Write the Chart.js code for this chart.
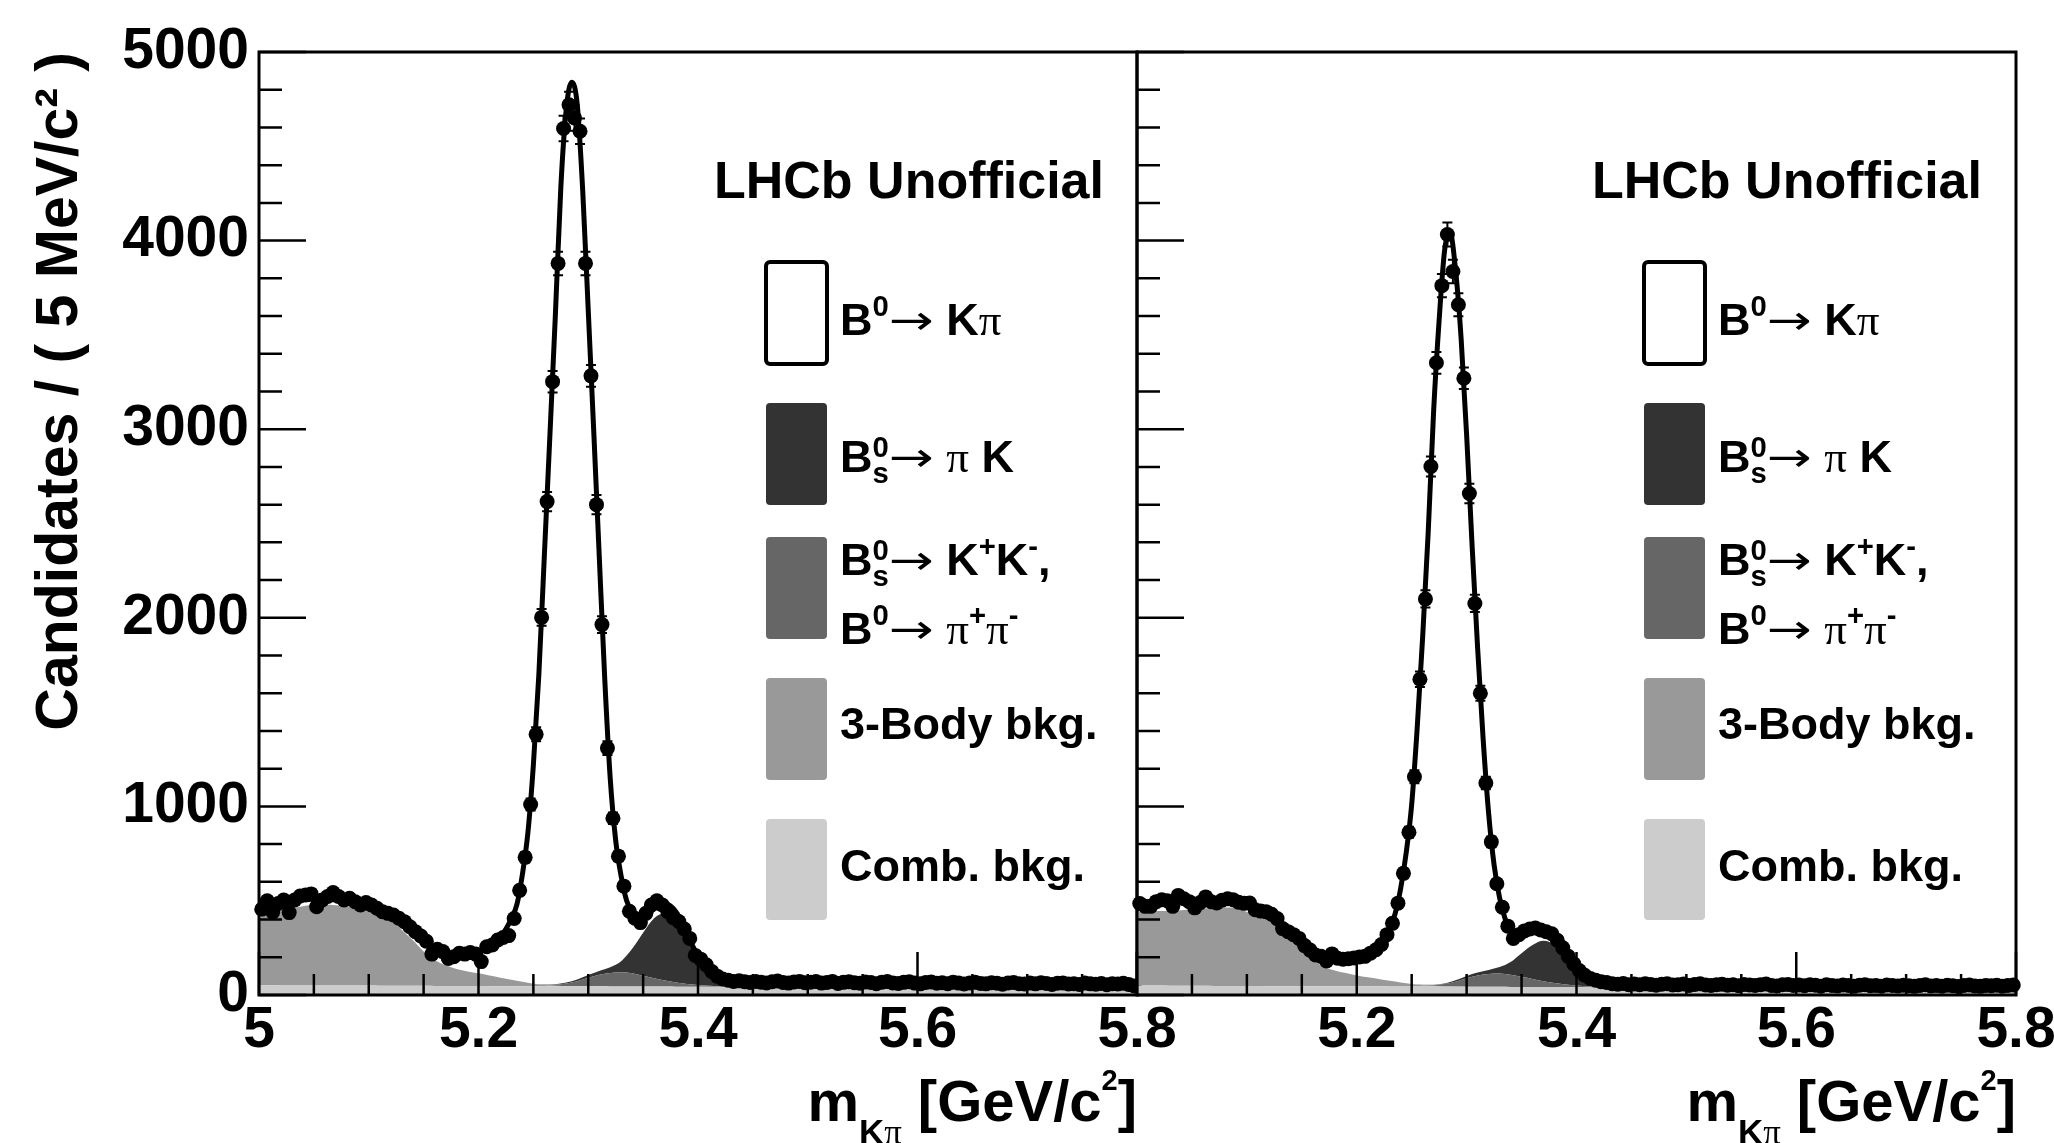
<!DOCTYPE html>
<html><head><meta charset="utf-8">
<script src="https://cdn.jsdelivr.net/npm/chart.js@4.4.0/dist/chart.umd.min.js"></script>
<style>
html,body{margin:0;padding:0;background:#fff;overflow:hidden;width:2054px;height:1143px;}
canvas{position:absolute;top:0;}
#cL{left:0;width:1200px;height:1143px;}
#cR{left:1110px;width:1000px;height:1143px;}
</style></head><body>
<canvas id="cL" width="1200" height="1143"></canvas>
<canvas id="cR" width="1000" height="1143"></canvas>
<script>
// ---------- binning ----------
const BIN_START = 5.0, BIN_WIDTH = 0.005, N_BINS = 160, COMP_STEP = 0.01, N_COMP = 81;

// ---------- axes ----------
const xTickValues = [5.0, 5.2, 5.4, 5.6, 5.8];
const xTickLabelsLeft = ['5', '5.2', '5.4', '5.6', '5.8'];
const xTickLabelsRight = ['', '5.2', '5.4', '5.6', '5.8'];
const xMinorTicks = [5.05, 5.1, 5.15, 5.25, 5.3, 5.35, 5.45, 5.5, 5.55, 5.65, 5.7, 5.75];
const yTickValues = [0, 1000, 2000, 3000, 4000, 5000];
const yTickLabels = ['0', '1000', '2000', '3000', '4000', '5000'];
const yMinorTicks = [200, 400, 600, 800, 1200, 1400, 1600, 1800, 2200, 2400, 2600, 2800, 3200, 3400, 3600, 3800, 4200, 4400, 4600, 4800];
const yTitle = 'Candidates / ( 5 MeV/c\u00B2 )';
const lhcbLabel = 'LHCb Unofficial';

// ---------- legend ----------
const legendColors = ['#ffffff', '#333333', '#666666', '#999999', '#cccccc'];
const legendLabels = [
  [[{t:'B'},{t:'0',sup:1},{t:'\u2192',arrow:1},{t:' K'},{t:'\u03C0',serif:1}]],
  [[{t:'B'},{t:'0',sup:1,stack:1},{t:'s',sub:1},{t:'\u2192',arrow:1},{t:' '},{t:'\u03C0',serif:1},{t:' K'}]],
  [[{t:'B'},{t:'0',sup:1,stack:1},{t:'s',sub:1},{t:'\u2192',arrow:1},{t:' K'},{t:'+',sup:1},{t:'K'},{t:'-',sup:1},{t:','}],
   [{t:'B'},{t:'0',sup:1},{t:'\u2192',arrow:1},{t:' '},{t:'\u03C0',serif:1},{t:'+',sup:1},{t:'\u03C0',serif:1},{t:'-',sup:1}]],
  [[{t:'3-Body bkg.'}]],
  [[{t:'Comb. bkg.'}]]
];
const xTitle = [{t:'m'},{t:'K',sub:1},{t:'\u03C0',serif:1,sub:1},{t:' [GeV/c'},{t:'2',sup:1},{t:']'}];

// ---------- left panel: data (events per 5 MeV bin) ----------
const leftCounts = [
  455,500,440,485,504,437,504,525,530,536,
  468,504,522,543,522,504,513,495,477,490,
  477,460,442,433,424,407,389,362,336,313,
  285,217,242,230,194,203,221,217,225,217,
  177,256,265,292,305,315,406,555,730,1010,
  1382,2002,2616,3252,3879,4594,4720,4650,4580,3879,
  3283,2600,1964,1309,937,736,577,444,407,384,
  433,477,500,477,442,410,390,350,300,210,
  190,160,125,100,85,78,72,75,70,66,
  72,68,64,70,74,66,63,69,72,65,
  68,71,63,66,72,61,67,70,65,62,
  69,66,60,68,71,64,61,67,70,63,
  59,66,69,62,65,60,68,63,58,64,
  67,61,59,65,62,57,64,66,60,58,
  63,59,65,61,56,62,64,58,60,56,
  63,59,57,61,55,60,58,62,56,48
];
// total fit, at bin edges
const leftFit = [
  465,474,482,488,492,496,500,503,506,507,
  508,508,508,507,505,502,498,493,488,482,
  474,465,454,441,425,406,384,359,332,305,
  278,255,237,223,213,207,205,206,209,215,
  225,239,257,280,310,350,405,480,640,860,
  1220,1700,2330,2960,3600,4280,4700,4840,4720,4260,
  3630,2990,2330,1680,1150,820,630,500,440,412,
  410,430,458,478,485,472,440,390,330,262,
  205,162,128,104,89,80,74,71,70,69,
  68,68,67,67,67,66,66,66,66,65,
  65,65,65,65,64,64,64,64,64,63,
  63,63,63,63,63,62,62,62,62,62,
  62,61,61,61,61,61,61,60,60,60,
  60,60,60,60,59,59,59,59,59,59,
  59,58,58,58,58,58,58,58,57,57,
  57,57,57,57,57,57,56,56,56,56,
  56
];
// components, on a 10 MeV grid
const leftComb = [
  52,52,51,51,51,51,50,50,50,50,
  50,49,49,49,49,49,48,48,48,48,
  48,47,47,47,47,47,46,46,46,46,
  46,46,45,45,45,45,45,45,44,44,
  44,44,44,44,43,43,43,43,43,43,
  42,42,42,42,42,42,42,41,41,41,
  41,41,41,41,41,40,40,40,40,40,
  40,40,40,40,39,39,39,39,39,39,
  39
];
const leftThreeBody = [
  355,380,398,410,420,427,428,426,421,415,
  405,383,356,297,242,182,138,110,90,77,
  67,56,45,34,23,13,7,3,1,0,
  0,0,0,0,0,0,0,0,0,0,
  0,0,0,0,0,0,0,0,0,0,
  0,0,0,0,0,0,0,0,0,0,
  0,0,0,0,0,0,0,0,0,0,
  0,0,0,0,0,0,0,0,0,0,
  0
];
const leftKKpipi = [
  0,0,0,0,0,0,0,0,0,0,
  0,0,0,0,0,0,0,0,0,0,
  0,0,0,0,0,0,2,6,14,27,
  46,62,72,76,70,57,44,32,22,14,
  9,5,3,2,1,0,0,0,0,0,
  0,0,0,0,0,0,0,0,0,0,
  0,0,0,0,0,0,0,0,0,0,
  0,0,0,0,0,0,0,0,0,0,
  0
];
const leftBsPiK = [
  0,0,0,0,0,0,0,0,0,0,
  0,0,0,0,0,0,0,0,0,0,
  0,0,0,0,0,0,1,2,5,9,
  14,19,30,58,130,228,318,356,312,240,
  130,52,15,4,1,0,0,0,0,0,
  0,0,0,0,0,0,0,0,0,0,
  0,0,0,0,0,0,0,0,0,0,
  0,0,0,0,0,0,0,0,0,0,
  0
];

// ---------- right panel ----------
const rightCounts = [
  485,470,470,495,505,500,470,528,510,495,
  462,490,520,495,488,503,510,505,492,486,
  488,452,445,442,428,405,352,336,320,300,
  262,238,212,205,180,218,195,190,192,196,
  202,205,222,240,268,320,380,487,645,863,
  1157,1674,2100,2802,3352,3761,4032,3836,3660,3270,
  2659,2076,1600,1124,812,590,465,365,300,320,
  340,350,355,345,335,325,290,250,205,165,
  130,105,88,78,70,66,60,57,61,55,
  58,54,59,56,52,57,60,53,55,58,
  51,56,59,53,50,55,57,52,54,49,
  56,53,50,55,58,51,48,54,56,50,
  53,49,55,52,47,54,51,48,53,50,
  46,52,55,49,51,47,53,50,48,52,
  49,46,51,54,48,50,47,52,49,45,
  50,53,48,46,51,49,52,47,50,53
];
const rightFit = [
  478,480,482,484,486,488,490,492,493,494,
  495,495,495,495,494,493,492,490,488,484,
  478,468,455,441,425,405,382,357,330,303,
  277,253,232,215,204,199,196,194,194,196,
  200,205,215,232,254,294,350,433,566,754,
  1010,1415,1900,2450,3100,3580,3950,4040,3840,3480,
  2970,2380,1840,1360,965,690,515,405,340,318,
  330,340,347,350,345,335,318,292,250,205,
  165,132,106,88,76,68,63,60,58,57,
  56,56,56,55,55,55,55,55,54,54,
  54,54,54,53,53,53,53,53,53,52,
  52,52,52,52,52,52,51,51,51,51,
  51,51,51,51,50,50,50,50,50,50,
  50,50,50,50,50,49,49,49,49,49,
  49,49,49,49,49,49,49,49,48,48,
  48,48,48,48,48,48,48,48,48,48,
  48
];
const rightComb = [
  50,50,50,49,49,49,49,48,48,48,
  48,48,47,47,47,47,47,46,46,46,
  46,46,46,45,45,45,45,45,44,44,
  44,44,44,44,43,43,43,43,43,43,
  42,42,42,42,42,42,42,41,41,41,
  41,41,41,41,41,41,40,40,40,40,
  40,40,40,40,40,40,39,39,39,39,
  39,39,39,39,39,39,39,38,38,38,
  38
];
const rightThreeBody = [
  391,393,395,397,401,406,409,413,416,414,
  392,377,359,320,252,191,138,104,84,70,
  58,48,39,30,21,13,7,4,2,1,
  0,0,0,0,0,0,0,0,0,0,
  0,0,0,0,0,0,0,0,0,0,
  0,0,0,0,0,0,0,0,0,0,
  0,0,0,0,0,0,0,0,0,0,
  0,0,0,0,0,0,0,0,0,0,
  0
];
const rightKKpipi = [
  0,0,0,0,0,0,0,0,0,0,
  0,0,0,0,0,0,0,0,0,0,
  0,0,0,0,0,0,2,5,12,25,
  45,60,68,70,64,54,42,30,21,13,
  8,4,2,1,0,0,0,0,0,0,
  0,0,0,0,0,0,0,0,0,0,
  0,0,0,0,0,0,0,0,0,0,
  0,0,0,0,0,0,0,0,0,0,
  0
];
const rightBsPiK = [
  0,0,0,0,0,0,0,0,0,0,
  0,0,0,0,0,0,0,0,0,0,
  0,0,0,0,0,0,0,1,3,8,
  12,15,21,34,68,125,180,214,201,150,
  75,25,6,1,0,0,0,0,0,0,
  0,0,0,0,0,0,0,0,0,0,
  0,0,0,0,0,0,0,0,0,0,
  0,0,0,0,0,0,0,0,0,0,
  0
];

// ---------- grids ----------
const binCenters = [], binEdges = [], compGrid = [];
for (let k = 0; k < N_BINS; k++) binCenters.push(+(BIN_START + BIN_WIDTH * (k + 0.5)).toFixed(5));
for (let k = 0; k <= N_BINS; k++) binEdges.push(+(BIN_START + BIN_WIDTH * k).toFixed(5));
for (let k = 0; k < N_COMP; k++) compGrid.push(+(BIN_START + COMP_STEP * k).toFixed(4));
const pts = (xs, ys) => ys.map((v, i) => ({x: xs[i], y: v}));

const SANS = '"Liberation Sans", Arial, Helvetica, sans-serif';
const SERIF = '"Liberation Serif", "Times New Roman", "DejaVu Serif", serif';
const ARROWFONT = '"DejaVu Sans", "Noto Sans", sans-serif';

function drawRuns(ctx, runs, x, y, size, st, measureOnly) {
  let cx = x;
  for (const r of runs) {
    const sc = r.sup ? st.supSc : (r.sub ? st.subSc : 1);
    const fs = size * sc;
    if (r.arrow) ctx.font = (fs * 0.9) + 'px ' + ARROWFONT;
    else ctx.font = (r.serif ? '' : 'bold ') + fs + 'px ' + (r.serif ? SERIF : SANS);
    let w = ctx.measureText(r.t).width;
    let dy = 0;
    if (r.sup) dy = -(r.stack ? st.stackSupDy : st.supDy);
    if (r.sub) dy = st.subDy;
    if (r.arrow) {
      const target = size * st.arrowW;
      const sx = target / w;
      if (!measureOnly) {
        ctx.save();
        ctx.translate(cx, y + dy - 1);
        ctx.scale(sx, 1);
        ctx.fillText(r.t, 0, 0);
        ctx.restore();
      }
      w = target;
    } else if (!measureOnly) {
      ctx.fillText(r.t, cx, y + dy);
    }
    if (!r.stack) cx += w;
  }
  return cx - x;
}

function makeDecor(P) {
  return {
    id: 'decor' + P.name,
    afterDatasetsDraw(chart) {
      const {ctx, chartArea: a, scales: {x, y}} = chart;
      const meta = chart.getDatasetMeta(0);
      ctx.save();
      ctx.strokeStyle = '#000';
      ctx.lineWidth = 2;
      ctx.beginPath();
      P.counts.forEach((c, i) => {
        const el = meta.data[i];
        const e = Math.sqrt(c);
        const y1 = y.getPixelForValue(c - e), y2 = y.getPixelForValue(c + e);
        ctx.moveTo(el.x, y1); ctx.lineTo(el.x, y2);
        ctx.moveTo(el.x - 5, y1); ctx.lineTo(el.x + 5, y1);
        ctx.moveTo(el.x - 5, y2); ctx.lineTo(el.x + 5, y2);
      });
      ctx.stroke();
      ctx.lineWidth = 2.5;
      ctx.beginPath();
      yTickValues.forEach(v => { const py = y.getPixelForValue(v); ctx.moveTo(a.left, py); ctx.lineTo(a.left + 47, py); });
      yMinorTicks.forEach(v => { const py = y.getPixelForValue(v); ctx.moveTo(a.left, py); ctx.lineTo(a.left + 23, py); });
      xTickValues.forEach(v => { const px = x.getPixelForValue(v); ctx.moveTo(px, a.bottom); ctx.lineTo(px, a.bottom - 43); });
      xMinorTicks.forEach(v => { const px = x.getPixelForValue(v); ctx.moveTo(px, a.bottom); ctx.lineTo(px, a.bottom - 21); });
      ctx.stroke();
      ctx.lineWidth = 3;
      ctx.strokeRect(a.left, a.top, a.right - a.left, a.bottom - a.top);
      ctx.restore();
    },
    afterDraw(chart) {
      const {ctx, chartArea: a} = chart;
      ctx.save();
      ctx.fillStyle = '#000';
      ctx.textAlign = 'left';
      ctx.textBaseline = 'alphabetic';
      ctx.font = 'bold 52px ' + SANS;
      ctx.fillText(lhcbLabel, a.left + 455, a.top + 146);
      // legend
      const boxY = [[210, 312], [351, 453], [485, 587], [626, 728], [767, 868]];
      const baseY = [[283], [420], [523, 592], [687], [829]];
      const lst = {supSc: 0.65, subSc: 0.65, supDy: 19, stackSupDy: 15, subDy: 11, arrowW: 1.0};
      legendColors.forEach((col, i) => {
        const bx = a.left + 507, by = a.top + boxY[i][0], bw = 61, bh = boxY[i][1] - boxY[i][0];
        ctx.beginPath();
        if (ctx.roundRect) ctx.roundRect(bx, by, bw, bh, 4); else ctx.rect(bx, by, bw, bh);
        ctx.fillStyle = col;
        ctx.fill();
        if (i === 0) { ctx.lineWidth = 4; ctx.strokeStyle = '#000'; ctx.stroke(); }
        ctx.fillStyle = '#000';
        legendLabels[i].forEach((line, j) => drawRuns(ctx, line, a.left + 581, a.top + baseY[i][j], 45, lst, false));
      });
      // x title
      const tst = {supSc: 0.5, subSc: 0.6, supDy: 31, stackSupDy: 31, subDy: 23, arrowW: 1};
      const w = drawRuns(ctx, xTitle, 0, 0, 58, tst, true);
      drawRuns(ctx, xTitle, a.right - w, a.bottom + 126, 58, tst, false);
      ctx.restore();
    }
  };
}

function makeChart(id, P) {
  const noLine = 'rgba(0,0,0,0)';
  const comp = (data, color, fill) => ({data: pts(compGrid, data), backgroundColor: color, borderColor: noLine, borderWidth: 0,
    pointRadius: 0, pointHoverRadius: 0, fill: fill, cubicInterpolationMode: 'monotone', stack: 'comp', showLine: true});
  return new Chart(document.getElementById(id), {
    type: 'line',
    data: {datasets: [
      {data: pts(binCenters, P.counts), showLine: false, pointRadius: 7.5, pointHoverRadius: 7.5, pointBackgroundColor: '#000',
        pointBorderColor: '#000', pointBorderWidth: 0, stack: 'data', clip: false},
      {data: pts(binEdges, P.fit), borderColor: '#000', borderWidth: 5, pointRadius: 0, pointHoverRadius: 0, fill: false,
        cubicInterpolationMode: 'monotone', stack: 'fit', clip: false},
      comp(P.comb, '#cccccc', 'origin'),
      comp(P.three, '#999999', '-1'),
      comp(P.kk, '#666666', '-1'),
      comp(P.pik, '#333333', '-1')
    ]},
    options: {
      responsive: false, animation: false, devicePixelRatio: 1, events: [],
      layout: {padding: {left: 0, right: P.padRight, top: 52, bottom: 0}},
      plugins: {legend: {display: false}, tooltip: {enabled: false}},
      scales: {
        x: {type: 'linear', min: 5.0, max: 5.8,
          grid: {display: false, drawTicks: false}, border: {display: false},
          afterBuildTicks: s => { s.ticks = xTickValues.map(v => ({value: v})); },
          afterFit: s => { s.height = 148; },
          ticks: {autoSkip: false, maxRotation: 0, minRotation: 0, padding: 8, color: '#000',
            font: {family: SANS, weight: 'bold', size: 57, lineHeight: 1},
            callback: (v, i) => P.xLabels[i]}},
        y: {type: 'linear', min: 0, max: 5000, stacked: true,
          grid: {display: false, drawTicks: false}, border: {display: false},
          afterBuildTicks: s => { s.ticks = yTickValues.map(v => ({value: v})); },
          afterFit: s => { s.width = P.yWidth; },
          ticks: {display: P.showY, autoSkip: false, padding: 10, color: '#000',
            font: {family: SANS, weight: 'bold', size: 57, lineHeight: 1},
            callback: (v, i) => yTickLabels[i]},
          title: {display: P.showY, text: yTitle, align: 'end', color: '#000',
            font: {family: SANS, weight: 'bold', size: 59, lineHeight: 1}, padding: {top: 31, bottom: 0}}}
      }
    },
    plugins: [makeDecor(P)]
  });
}

makeChart('cL', {name: 'L', counts: leftCounts, fit: leftFit, comb: leftComb, three: leftThreeBody, kk: leftKKpipi, pik: leftBsPiK,
  xLabels: xTickLabelsLeft, showY: true, yWidth: 259, padRight: 63});
makeChart('cR', {name: 'R', counts: rightCounts, fit: rightFit, comb: rightComb, three: rightThreeBody, kk: rightKKpipi, pik: rightBsPiK,
  xLabels: xTickLabelsRight, showY: false, yWidth: 27, padRight: 94});
</script></body></html>
